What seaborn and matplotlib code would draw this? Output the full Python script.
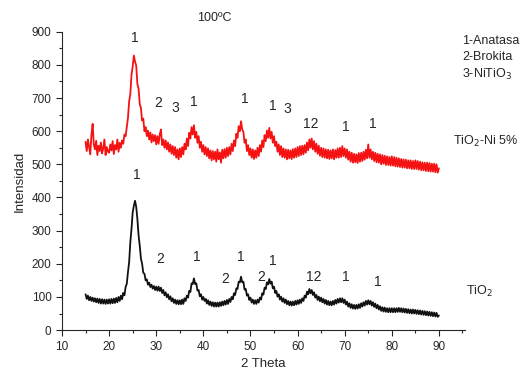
import matplotlib
matplotlib.use("Agg")
import matplotlib.pyplot as plt
import numpy as np
import pandas as pd
import seaborn as sns

# 2 Theta, paso 0.25 grados (15 -> 90)
two_theta = np.arange(15.0, 90.001, 0.25)

# TiO2-Ni 5% (rojo)
int_ni = [568, 540, 575, 552, 530, 590, 622, 560, 545, 571, 528, 556, 540, 566, 533, 549, 575, 528, 552, 538,
          535, 560, 542, 570, 531, 558, 545, 575, 538, 565, 550, 572, 562, 590, 585, 612, 640, 690, 712, 770,
          795, 828, 810, 798, 742, 728, 682, 670, 632, 638, 600, 612, 585, 602, 575, 596, 566, 590, 570, 588,
          560, 585, 562, 590, 605, 558, 575, 550, 572, 545, 566, 538, 560, 532, 555, 528, 552, 520, 545, 515,
          548, 522, 552, 530, 562, 545, 578, 555, 595, 578, 612, 590, 618, 580, 598, 565, 585, 550, 568, 538,
          558, 530, 552, 525, 548, 518, 542, 512, 540, 515, 538, 508, 545, 515, 536, 505, 544, 518, 546, 520,
          550, 525, 552, 530, 562, 540, 572, 555, 592, 580, 615, 600, 630, 605, 598, 565, 575, 540, 558, 528,
          548, 520, 545, 516, 542, 520, 550, 525, 558, 538, 572, 552, 588, 570, 602, 580, 610, 578, 598, 565,
          585, 555, 568, 538, 560, 528, 555, 522, 548, 520, 545, 515, 544, 518, 542, 516, 546, 520, 548, 522,
          552, 525, 555, 528, 556, 530, 558, 535, 566, 542, 575, 550, 578, 545, 570, 538, 562, 532, 556, 526,
          550, 522, 548, 520, 545, 518, 544, 516, 542, 518, 545, 515, 543, 520, 548, 520, 550, 522, 555, 525,
          548, 520, 545, 514, 538, 508, 535, 505, 532, 506, 530, 504, 534, 508, 535, 510, 538, 514, 544, 518,
          560, 520, 545, 515, 538, 510, 535, 506, 532, 505, 530, 500, 528, 502, 526, 498, 524, 498, 522, 496,
          524, 496, 522, 494, 520, 493, 518, 492, 516, 490, 515, 490, 514, 488, 512, 488, 512, 486, 510, 486,
          512, 486, 510, 484, 508, 482, 506, 482, 505, 480, 505, 479, 504, 478, 502, 478, 502, 476, 500, 475,
          488]

# TiO2 (negro)
int_tio2 = [108, 94, 104, 90, 100, 88, 98, 86, 96, 84, 95, 82, 94, 80, 93, 80, 92, 79, 92, 80,
            93, 80, 94, 81, 95, 82, 97, 84, 100, 88, 104, 93, 112, 105, 130, 140, 175, 205, 265, 305,
            355, 375, 390, 372, 335, 286, 255, 216, 200, 173, 170, 150, 153, 137, 143, 130, 137, 125, 133, 121,
            131, 119, 131, 118, 128, 112, 121, 105, 114, 99, 108, 93, 102, 87, 96, 82, 92, 79, 90, 78,
            90, 78, 92, 79, 96, 88, 104, 98, 118, 115, 141, 139, 156, 139, 141, 119, 121, 102, 108, 92,
            100, 88, 94, 80, 90, 76, 86, 73, 84, 71, 83, 71, 83, 71, 84, 73, 86, 75, 88, 77,
            91, 79, 94, 85, 100, 93, 111, 106, 126, 124, 146, 144, 161, 144, 146, 122, 124, 104, 108, 91,
            98, 83, 92, 79, 90, 79, 92, 83, 98, 92, 111, 107, 128, 124, 144, 138, 154, 140, 146, 126,
            131, 112, 118, 101, 108, 92, 101, 86, 96, 82, 92, 78, 88, 75, 86, 74, 86, 75, 88, 77,
            90, 79, 92, 82, 96, 88, 104, 98, 116, 108, 124, 111, 121, 106, 114, 98, 106, 91, 101, 87,
            98, 84, 94, 80, 91, 77, 88, 75, 86, 75, 88, 77, 91, 80, 94, 83, 96, 84, 96, 82,
            92, 77, 86, 71, 81, 67, 78, 65, 76, 64, 76, 65, 78, 67, 81, 71, 84, 74, 88, 77,
            90, 78, 88, 74, 84, 70, 80, 66, 76, 62, 72, 58, 69, 56, 68, 55, 66, 54, 66, 54,
            66, 54, 66, 54, 66, 55, 67, 55, 66, 54, 65, 53, 64, 52, 63, 51, 62, 50, 62, 50,
            61, 49, 60, 48, 59, 47, 58, 46, 57, 45, 56, 44, 55, 43, 54, 42, 53, 41, 52, 40,
            44]

# etiquetas de picos: (texto, 2theta, intensidad)
picos_ni = [("1", 25.5, 860), ("2", 30.4, 665), ("3", 34.0, 650),
            ("1", 37.9, 668), ("1", 48.9, 675), ("1", 54.7, 655),
            ("3", 57.9, 645), ("12", 62.8, 600), ("1", 70.2, 590),
            ("1", 76.0, 600)]
picos_tio2 = [("1", 25.9, 448), ("2", 30.9, 192), ("1", 38.7, 198),
              ("2", 44.7, 132), ("1", 47.9, 198), ("2", 52.3, 138),
              ("1", 54.7, 186), ("12", 63.4, 140), ("1", 70.2, 138),
              ("1", 77.0, 123)]

df = pd.DataFrame({"theta": np.concatenate([two_theta, two_theta]),
                   "intensidad": int_ni + int_tio2,
                   "muestra": ["Ni"] * len(two_theta) + ["TiO2"] * len(two_theta)})

sns.set_style("ticks")
plt.rcParams['font.family'] = ['Liberation Sans', 'DejaVu Sans']

fig = plt.figure(figsize=(5.3, 3.73), dpi=100)
ax = fig.add_axes([0.117, 0.115, 0.76, 0.8])
sns.lineplot(data=df, x="theta", y="intensidad", hue="muestra",
             palette={"Ni": "#f41212", "TiO2": "#111111"},
             linewidth=1.3, legend=False, ax=ax)

for txt, x, y in picos_ni + picos_tio2:
    ax.text(x, y, txt, ha="center", va="bottom", fontsize=10)

ax.set_xlim(10, 95.5)
ax.set_ylim(0, 900)
ax.set_xticks(range(10, 91, 10))
ax.set_xticks(range(15, 96, 5), minor=True)
ax.set_yticks(range(0, 901, 100))
ax.set_yticks(range(50, 900, 100), minor=True)
ax.tick_params(labelsize=8.5, length=4, width=0.8)
ax.tick_params(which="minor", length=2.5, width=0.8)
ax.set_xlabel("2 Theta", fontsize=9.5)
ax.set_ylabel("Intensidad", fontsize=9.5)
sns.despine(ax=ax)

fig.text(0.405, 0.945, "100ºC", fontsize=9, ha="center")
fig.text(0.872, 0.905, "1-Anatasa\n2-Brokita\n3-NiTiO$_3$", fontsize=9,
         va="top", linespacing=1.35)
fig.text(0.855, 0.612, "TiO$_2$-Ni 5%", fontsize=9)
fig.text(0.88, 0.21, "TiO$_2$", fontsize=9)

fig.savefig("out.png", dpi=100)
